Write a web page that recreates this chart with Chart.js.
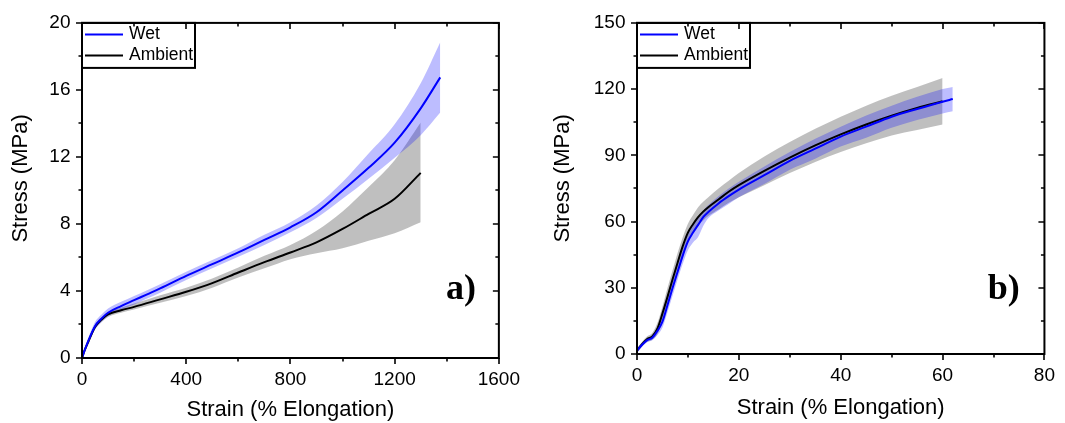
<!DOCTYPE html>
<html>
<head>
<meta charset="utf-8">
<script src="https://cdn.jsdelivr.net/npm/chart.js@4.4.1/dist/chart.umd.min.js"></script>
<style>
    html, body { margin: 0; padding: 0; background: #fff; }
    #wrap { position: relative; width: 1065px; height: 423px; }
    #chartA { position: absolute; left: 0; top: 0; }
    #chartB { position: absolute; left: 530px; top: 0; }
</style>
</head>
<body>
<div id="wrap">
    <canvas id="chartA" width="530" height="423"></canvas>
    <canvas id="chartB" width="535" height="423"></canvas>
</div>
<script>
// panel a) - strain (%) vs stress (MPa)
const strainWetA = [0, 10, 25, 50, 75, 100, 150, 200, 250, 300, 400, 500, 600, 700, 800, 900, 1000, 1100, 1200, 1300, 1375];
const stressWetA = [0, 0.45, 1.05, 1.9, 2.35, 2.7, 3.1, 3.45, 3.8, 4.15, 4.9, 5.6, 6.3, 7.05, 7.8, 8.7, 10.0, 11.35, 12.85, 14.9, 16.75];
const wetUpperA  = [0, 0.6, 1.25, 2.15, 2.6, 2.95, 3.35, 3.7, 4.05, 4.4, 5.15, 5.85, 6.55, 7.35, 8.1, 9.1, 10.5, 12.2, 13.95, 16.4, 18.85];
const wetLowerA  = [0, 0.35, 0.9, 1.7, 2.15, 2.5, 2.9, 3.2, 3.55, 3.9, 4.65, 5.35, 6.05, 6.75, 7.5, 8.35, 9.5, 10.7, 11.95, 13.3, 14.65];

const strainAmbA = [0, 10, 25, 50, 75, 100, 150, 200, 300, 400, 500, 600, 700, 800, 900, 1000, 1100, 1200, 1300];
const stressAmbA = [0, 0.45, 1.0, 1.85, 2.3, 2.6, 2.85, 3.05, 3.5, 3.95, 4.47, 5.1, 5.72, 6.3, 6.9, 7.7, 8.6, 9.5, 11.05];
const ambUpperA  = [0, 0.55, 1.15, 2.0, 2.45, 2.75, 3.0, 3.25, 3.75, 4.2, 4.75, 5.4, 6.1, 6.75, 7.6, 8.75, 10.2, 11.8, 14.05];
const ambLowerA  = [0, 0.35, 0.85, 1.7, 2.15, 2.45, 2.7, 2.9, 3.3, 3.7, 4.2, 4.8, 5.35, 5.9, 6.25, 6.55, 7.0, 7.45, 8.1];

// panel b)
const strainWetB = [0, 1, 2, 3, 4, 5, 6, 7, 8, 9, 10, 11, 12, 13, 14, 16, 18, 20, 25, 30, 35, 40, 45, 50, 55, 60, 62];
const stressWetB = [1.5, 4.2, 6.3, 7.4, 10.4, 14.7, 22.2, 30, 37.4, 44.7, 51, 55, 58.5, 62, 64.3, 68.2, 71.5, 74.5, 81, 87.5, 93, 98.5, 103, 107.5, 111, 114.3, 115.5];
const wetUpperB  = [2.5, 5.2, 7.3, 8.6, 12.2, 17.5, 25.5, 33.5, 41, 48, 54.5, 58.5, 62, 65, 67.5, 71.5, 75, 78, 85, 91.5, 97.5, 103, 108, 112.5, 116.5, 120, 121];
const wetLowerB  = [0.5, 3.2, 5.3, 6.2, 8.6, 12, 19, 26.5, 34, 41, 47, 50.5, 53, 58, 61.5, 65, 68, 71, 77, 83.5, 88.5, 94, 98, 102.5, 106, 109, 110];

const strainAmbB = [0, 1, 2, 3, 4, 5, 6, 7, 8, 9, 10, 11, 12, 13, 14, 16, 18, 20, 25, 30, 35, 40, 45, 50, 55, 60];
const stressAmbB = [1.5, 4.5, 6.8, 8, 11.5, 18.4, 26, 34, 41.6, 49, 55, 58.8, 62, 64.5, 66.5, 70, 73.5, 76.5, 83, 89, 94.5, 99.5, 104, 108, 111.5, 114.5];
const ambUpperB  = [2.5, 5.5, 8, 9.5, 14, 21.5, 30, 38, 46, 53, 59, 63, 66.5, 69, 71, 75, 78.5, 82, 89.5, 96, 102, 107.5, 112.5, 117, 121, 125];
const ambLowerB  = [0.5, 3.5, 5.5, 6.5, 9, 15, 22.5, 30, 37.5, 44.5, 50.5, 55, 58, 60.5, 62.5, 65.5, 68.5, 71, 76.5, 82, 87, 91.5, 95.5, 99, 101.5, 104];

// axes
const xRangeA = [0, 1600], xStepA = 400;
const yRangeA = [0, 20], yStepA = 4;
const xRangeB = [0, 80], xStepB = 20;
const yRangeB = [0, 150], yStepB = 30;

const seriesNames = ['Wet', 'Ambient'];
const xTitle = 'Strain (% Elongation)';
const yTitle = 'Stress (MPa)';

const SANS = "'Liberation Sans', Arial, sans-serif";
const SERIF = "'Liberation Serif', 'Times New Roman', serif";

function pts(xs, ys) {
    return xs.map((x, i) => ({x: x, y: ys[i]}));
}

// Origin-style box, mirrored ticks, inset legend, panel letter, y title
const originFrame = {
    id: 'originFrame',
    afterDatasetsDraw(chart, args, opts) {
        const {ctx, chartArea: a} = chart;
        const xs = chart.scales.x, ys = chart.scales.y;
        ctx.save();
        ctx.strokeStyle = '#000';
        ctx.lineWidth = 1.6;

        const majors = s => s.ticks.map(t => t.value);
        const minors = s => {
            const v = majors(s), m = [];
            for (let i = 0; i < v.length - 1; i++) m.push((v[i] + v[i + 1]) / 2);
            return m;
        };
        ctx.beginPath();
        [[majors(xs), 6], [minors(xs), 3.5]].forEach(([vals, len]) => {
            vals.forEach(v => {
                const px = Math.round(xs.getPixelForValue(v));
                ctx.moveTo(px, a.bottom); ctx.lineTo(px, a.bottom + len);
                ctx.moveTo(px, a.top); ctx.lineTo(px, a.top + len);
            });
        });
        [[majors(ys), 6], [minors(ys), 3.5]].forEach(([vals, len]) => {
            vals.forEach(v => {
                const py = Math.round(ys.getPixelForValue(v));
                ctx.moveTo(a.left - len, py); ctx.lineTo(a.left, py);
                ctx.moveTo(a.right - len, py); ctx.lineTo(a.right, py);
            });
        });
        ctx.stroke();

        ctx.lineWidth = 2;
        ctx.strokeRect(a.left, a.top, a.right - a.left, a.bottom - a.top);

        // legend box
        const items = chart.data.datasets.filter(d => d.label);
        const lx = a.left, ly = a.top;
        ctx.strokeRect(lx, ly, opts.legendWidth, 45);
        ctx.font = '17.5px ' + SANS;
        ctx.textBaseline = 'middle';
        ctx.textAlign = 'left';
        items.forEach((d, i) => {
            const rowY = ly + 11.5 + i * 21;
            ctx.strokeStyle = d.borderColor;
            ctx.lineWidth = 2;
            ctx.beginPath();
            ctx.moveTo(lx + 3, rowY); ctx.lineTo(lx + 41, rowY);
            ctx.stroke();
            ctx.fillStyle = '#000';
            ctx.fillText(d.label, lx + 47, rowY);
        });

        // panel letter
        ctx.font = 'bold 36px ' + SERIF;
        ctx.textAlign = 'center';
        ctx.textBaseline = 'alphabetic';
        ctx.fillStyle = '#000';
        ctx.fillText(opts.panel, xs.getPixelForValue(opts.panelAt[0]), ys.getPixelForValue(opts.panelAt[1]));

        // y axis title
        ctx.font = '22px ' + SANS;
        ctx.textBaseline = 'middle';
        ctx.translate(opts.yTitleX, (a.top + a.bottom) / 2 + opts.yTitleShift);
        ctx.rotate(-Math.PI / 2);
        ctx.fillText(yTitle, 0, 0);
        ctx.restore();
    }
};

function lineSet(label, xs, ys, color) {
    return {
        label: label, data: pts(xs, ys), borderColor: color, borderWidth: 2,
        pointRadius: 0, fill: false, cubicInterpolationMode: 'monotone', order: 0
    };
}

function bandSet(xs, up, low, color, order) {
    return [
        {label: '', data: pts(xs, up), borderWidth: 0, pointRadius: 0, fill: false,
         cubicInterpolationMode: 'monotone', order: order},
        {label: '', data: pts(xs, low), borderWidth: 0, pointRadius: 0, fill: '-1',
         backgroundColor: color, cubicInterpolationMode: 'monotone', order: order}
    ];
}

function buildChart(id, p) {
    return new Chart(document.getElementById(id), {
        type: 'line',
        data: {
            datasets: [
                lineSet(seriesNames[0], p.wx, p.wy, '#0000ff'),
                lineSet(seriesNames[1], p.ax, p.ay, '#000000'),
                ...bandSet(p.ax, p.aUp, p.aLow, 'rgba(0, 0, 0, 0.25)', 2),
                ...bandSet(p.wx, p.wUp, p.wLow, 'rgba(0, 0, 255, 0.26)', 1)
            ]
        },
        options: {
            responsive: false,
            animation: false,
            events: [],
            layout: {padding: {top: 21, right: p.padRight, left: 0, bottom: 0}},
            scales: {
                x: {
                    type: 'linear',
                    min: p.xRange[0], max: p.xRange[1],
                    afterFit: s => { s.height = p.xAxisH; },
                    grid: {display: false, drawTicks: false},
                    border: {display: false},
                    ticks: {stepSize: p.xStep, color: '#000', padding: 10, maxRotation: 0,
                            font: {family: SANS, size: 19},
                            callback: v => String(v)},
                    title: {display: true, text: xTitle, color: '#000',
                            font: {family: SANS, size: 22}, padding: {top: 0, bottom: p.xTitlePad}}
                },
                y: {
                    type: 'linear',
                    min: p.yRange[0], max: p.yRange[1],
                    afterFit: s => { s.width = p.yAxisW; },
                    grid: {display: false, drawTicks: false},
                    border: {display: false},
                    ticks: {stepSize: p.yStep, color: '#000', padding: 11.5,
                            font: {family: SANS, size: 19},
                            callback: v => String(v)}
                }
            },
            plugins: {
                legend: {display: false},
                tooltip: {enabled: false},
                originFrame: {
                    panel: p.panel, panelAt: p.panelAt,
                    yTitleX: p.yTitleX, yTitleShift: p.yTitleShift,
                    legendWidth: 113
                }
            }
        },
        plugins: [originFrame]
    });
}

buildChart('chartA', {
    wx: strainWetA, wy: stressWetA, wUp: wetUpperA, wLow: wetLowerA,
    ax: strainAmbA, ay: stressAmbA, aUp: ambUpperA, aLow: ambLowerA,
    xRange: xRangeA, xStep: xStepA, yRange: yRangeA, yStep: yStepA,
    padRight: 29, xAxisH: 65, yAxisW: 82, xTitlePad: 0,
    panel: 'a)', panelAt: [1455, 3.5], yTitleX: 21, yTitleShift: -12
});

buildChart('chartB', {
    wx: strainWetB, wy: stressWetB, wUp: wetUpperB, wLow: wetLowerB,
    ax: strainAmbB, ay: stressAmbB, aUp: ambUpperB, aLow: ambLowerB,
    xRange: xRangeB, xStep: xStepB, yRange: yRangeB, yStep: yStepB,
    padRight: 14, xAxisH: 69, yAxisW: 107, xTitlePad: 2,
    panel: 'b)', panelAt: [72, 25], yTitleX: 33, yTitleShift: -10
});
</script>
</body>
</html>
